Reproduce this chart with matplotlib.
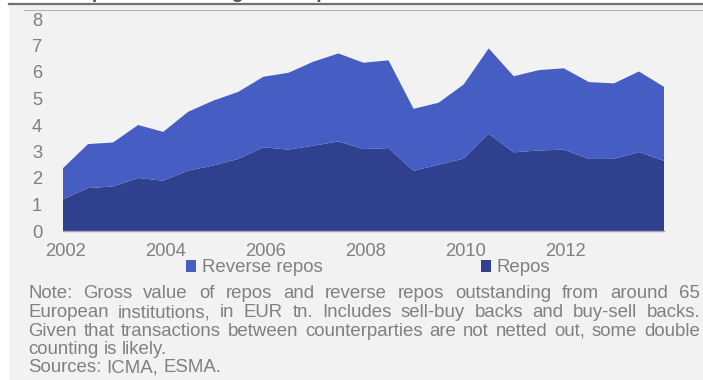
import matplotlib
matplotlib.use('Agg')
import matplotlib.pyplot as plt
from matplotlib.lines import Line2D
from matplotlib.patches import Rectangle

# ICMA survey dates (June / December), values in EUR tn
surveys = ['2001-12', '2002-06', '2002-12', '2003-06', '2003-12', '2004-06',
           '2004-12', '2005-06', '2005-12', '2006-06', '2006-12', '2007-06',
           '2007-12', '2008-06', '2008-12', '2009-06', '2009-12', '2010-06',
           '2010-12', '2011-06', '2011-12', '2012-06', '2012-12', '2013-06',
           '2013-12']
repos = [1.20, 1.62, 1.68, 2.00, 1.90, 2.28, 2.47, 2.72, 3.16, 3.07, 3.22, 3.38,
         3.09, 3.13, 2.27, 2.50, 2.73, 3.67, 2.97, 3.04, 3.07, 2.72, 2.72, 2.98,
         2.65]
reverse_repos = [1.17, 1.66, 1.66, 2.00, 1.84, 2.22, 2.45, 2.53, 2.66, 2.90, 3.17,
                 3.32, 3.26, 3.31, 2.34, 2.34, 2.80, 3.22, 2.87, 3.03, 3.07, 2.90,
                 2.85, 3.04, 2.79]
tick_years = [2002, 2004, 2006, 2008, 2010, 2012]
y_ticks = [0, 1, 2, 3, 4, 5, 6, 7, 8]

note_lines = [
    'Note: Gross value of repos and reverse repos outstanding from around 65',
    'European institutions, in EUR tn. Includes sell-buy backs and buy-sell backs.',
    'Given that transactions between counterparties are not netted out, some double',
    'counting is likely.',
    'Sources: ICMA, ESMA.',
]

C_REV = '#465ec4'
C_REP = '#2e408e'
BG = '#f2f2f2'
GREY = '#808080'
FONT = ['Liberation Sans', 'DejaVu Sans']
FS_TICK = 13.2
FS = 13.4

W, H = 703, 380
plt.rcParams['font.family'] = FONT

x = [int(s[:4]) + (int(s[5:]) - 0.5) / 12 for s in surveys]

fig = plt.figure(figsize=(W / 100, H / 100), dpi=100, facecolor='white')

# grey panel, header rules and the title cut off by the crop
fig.add_artist(Rectangle((9 / W, 0), 1, 1 - 4.5 / H, transform=fig.transFigure,
                         facecolor=BG, edgecolor='none', zorder=-10))
fig.add_artist(Line2D([9 / W, 1], [1 - 4.3 / H] * 2, transform=fig.transFigure,
                      color='#707070', lw=1.6))
fig.add_artist(Line2D([24 / W, 1], [1 - 9.5 / H] * 2, transform=fig.transFigure,
                      color='#b8b8b8', lw=0.8))
fig.text(-106 / W, 1 + 2.0 / H, 'Repos and reverse repos outstanding in Europe',
         fontsize=14, fontweight='bold', color='#505050', va='baseline')

ax = fig.add_axes([63 / W, 1 - 231 / H, (664 - 63) / W, (231 - 19) / H])
ax.set_facecolor('none')
ax.stackplot(x, repos, reverse_repos, colors=[C_REP, C_REV], lw=0)
ax.set_xlim(x[0], x[-1])
ax.set_ylim(0, 8)
ax.set_xticks(tick_years)
ax.set_xticklabels([str(t) for t in tick_years])
ax.set_yticks(y_ticks)
ax.tick_params(length=0, labelsize=FS_TICK, labelcolor=GREY)
ax.tick_params(axis='y', pad=15)
ax.tick_params(axis='x', pad=9)
for s in ['left', 'top', 'right']:
    ax.spines[s].set_visible(False)
ax.spines['bottom'].set_color('#a6a6a6')
ax.spines['bottom'].set_linewidth(1.0)

# legend
for label, col, xl in [('Reverse repos', C_REV, 186), ('Repos', C_REP, 481)]:
    h = Rectangle((0, 0), 1, 1, facecolor=col, edgecolor='none')
    fig.legend([h], [label], loc='center left', bbox_to_anchor=(xl / W, 1 - 268 / H),
               frameon=False, fontsize=FS, labelcolor=GREY, handlelength=0.55,
               handleheight=0.55, handletextpad=0.3, borderpad=0, borderaxespad=0)

# justified note
renderer = fig.canvas.get_renderer()
left, right = 28, 700
baselines = [298.5, 317.0, 335.5, 354.0, 372.5]
for i, (line, yb) in enumerate(zip(note_lines, baselines)):
    words = line.split()
    texts = [fig.text(0, 1 - yb / H, w, fontsize=FS, color=GREY, va='baseline')
             for w in words]
    widths = [t.get_window_extent(renderer).width for t in texts]
    if i < 3:
        gap = (right - left - sum(widths)) / (len(words) - 1)
    else:
        gap = 0.278 * FS * 100 / 72
    xp = left
    for t, w in zip(texts, widths):
        t.set_x(xp / W)
        xp += w + gap

fig.savefig('out.png', dpi=100, facecolor='white')
